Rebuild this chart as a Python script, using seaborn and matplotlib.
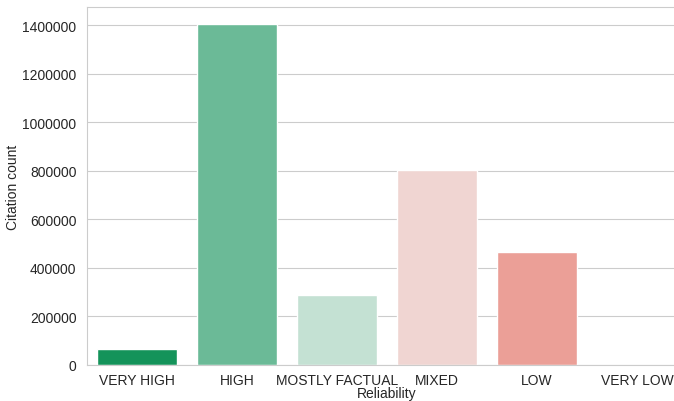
import matplotlib
matplotlib.use('Agg')
import matplotlib.pyplot as plt
import pandas as pd
import seaborn as sns

reliability = ['VERY HIGH', 'HIGH', 'MOSTLY FACTUAL', 'MIXED', 'LOW', 'VERY LOW']
citations = [66000, 1405000, 288000, 803000, 465000, 0]
colors = ['#14935a', '#6bba97', '#c4e1d3', '#f0d5d2', '#eb9f97', '#d9534a']

df = pd.DataFrame({'Reliability': reliability, 'Citation count': citations})

sns.set_style('whitegrid')
plt.rcParams['font.family'] = ['Liberation Sans', 'DejaVu Sans']

fig = plt.figure(figsize=(6.74, 4.02), dpi=100)
ax = fig.add_axes([87 / 674, 36 / 402, 600 / 674, 358 / 402])
sns.barplot(data=df, x='Reliability', y='Citation count', hue='Reliability',
            palette=colors, legend=False, ax=ax, saturation=1)
ax.ticklabel_format(axis='y', style='plain')
ax.set_ylim(0, 1475000)
ax.tick_params(labelsize=10)
ax.tick_params(axis='y', pad=4)
ax.tick_params(axis='x', pad=2)
ax.xaxis.label.set_size(10)
ax.yaxis.label.set_size(10)
ax.xaxis.labelpad = -0.5
ax.yaxis.labelpad = 2

fig.savefig('out.png', dpi=100)
